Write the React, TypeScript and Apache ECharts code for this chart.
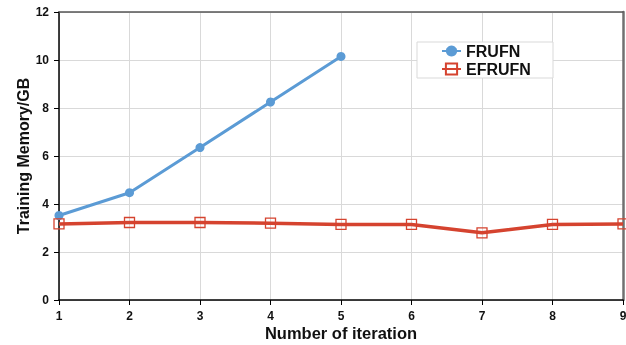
import React, { useEffect, useRef } from "react";
import * as echarts from "echarts";

const iterations = [1, 2, 3, 4, 5, 6, 7, 8, 9];
const frufn = [3.52, 4.47, 6.35, 8.25, 10.15];
const efrufn = [3.17, 3.23, 3.23, 3.2, 3.15, 3.15, 2.8, 3.15, 3.17];
const seriesNames = ["FRUFN", "EFRUFN"];

const FONT = "'Liberation Sans', Arial, sans-serif";
const BLUE = "#5b9bd5";
const RED = "#d5432f";

export default function App() {
  const ref = useRef<HTMLDivElement>(null);
  useEffect(() => {
    if (!ref.current) return;
    const chart = echarts.init(ref.current, undefined, { renderer: "svg" });
    chart.setOption({
      animation: false,
      textStyle: { fontFamily: FONT },
      grid: { left: 59, right: 3, top: 12, bottom: 45, outerBoundsMode: "none", containLabel: false },
      graphic: [
        {
          type: "rect",
          z: 1,
          shape: { x: 417, y: 42, width: 136, height: 36 },
          style: { fill: "#fff", stroke: "#d9d9d9", lineWidth: 1 },
        },
      ],
      legend: {
        orient: "vertical",
        left: 441,
        top: 43,
        z: 5,
        padding: 0,
        itemGap: 2,
        itemWidth: 19,
        itemHeight: 14,
        data: seriesNames,
        textStyle: { fontFamily: FONT, fontWeight: "bold", fontSize: 16, color: "#111" },
      },
      xAxis: [
        {
          type: "value",
          min: 1,
          max: 9,
          interval: 1,
          name: "Number of iteration",
          nameLocation: "middle",
          nameMoveOverlap: false,
          nameGap: 24,
          nameTextStyle: { fontFamily: FONT, fontWeight: "bold", fontSize: 16.5, color: "#111" },
          axisLine: { show: true, onZero: false, lineStyle: { color: "#000", width: 1.5 } },
          axisTick: { show: true, length: 5, lineStyle: { color: "#000" } },
          axisLabel: { fontFamily: FONT, fontWeight: "bold", fontSize: 12, color: "#111", margin: 10 },
          splitLine: { show: true, lineStyle: { color: "#d9d9d9", width: 1 } },
        },
        {
          type: "value",
          position: "top",
          min: 1,
          max: 9,
          interval: 1,
          axisLine: { show: true, onZero: false, lineStyle: { color: "#555", width: 1.5 } },
          axisTick: { show: false },
          axisLabel: { show: false },
          splitLine: { show: false },
        },
      ],
      yAxis: [
        {
          type: "value",
          min: 0,
          max: 12,
          interval: 2,
          name: "Training Memory/GB",
          nameLocation: "middle",
          nameMoveOverlap: false,
          nameGap: 28,
          nameTextStyle: { fontFamily: FONT, fontWeight: "bold", fontSize: 16, color: "#111" },
          axisLine: { show: true, lineStyle: { color: "#000", width: 1.5 } },
          axisTick: { show: true, length: 5, lineStyle: { color: "#000" } },
          axisLabel: { fontFamily: FONT, fontWeight: "bold", fontSize: 12, color: "#111", margin: 10 },
          splitLine: { show: true, lineStyle: { color: "#d9d9d9", width: 1 } },
        },
        {
          type: "value",
          position: "right",
          min: 0,
          max: 12,
          interval: 2,
          axisLine: { show: true, lineStyle: { color: "#707070", width: 2.5 } },
          axisTick: { show: false },
          axisLabel: { show: false },
          splitLine: { show: false },
        },
      ],
      series: [
        {
          name: seriesNames[0],
          type: "line",
          data: frufn.map((v, i) => [iterations[i], v]),
          symbol: "circle",
          symbolSize: 9,
          lineStyle: { color: BLUE, width: 3 },
          itemStyle: { color: BLUE },
          z: 3,
        },
        {
          name: seriesNames[1],
          type: "line",
          data: efrufn.map((v, i) => [iterations[i], v]),
          symbol: "rect",
          symbolSize: 10,
          lineStyle: { color: RED, width: 3.5 },
          itemStyle: { color: "rgba(0,0,0,0)", borderColor: RED, borderWidth: 1.3 },
          z: 3,
        },
      ],
    });
    return () => chart.dispose();
  }, []);
  return (
    <div
      ref={ref}
      style={{ position: "fixed", left: 0, top: 0, width: 626, height: 345 }}
    />
  );
}
